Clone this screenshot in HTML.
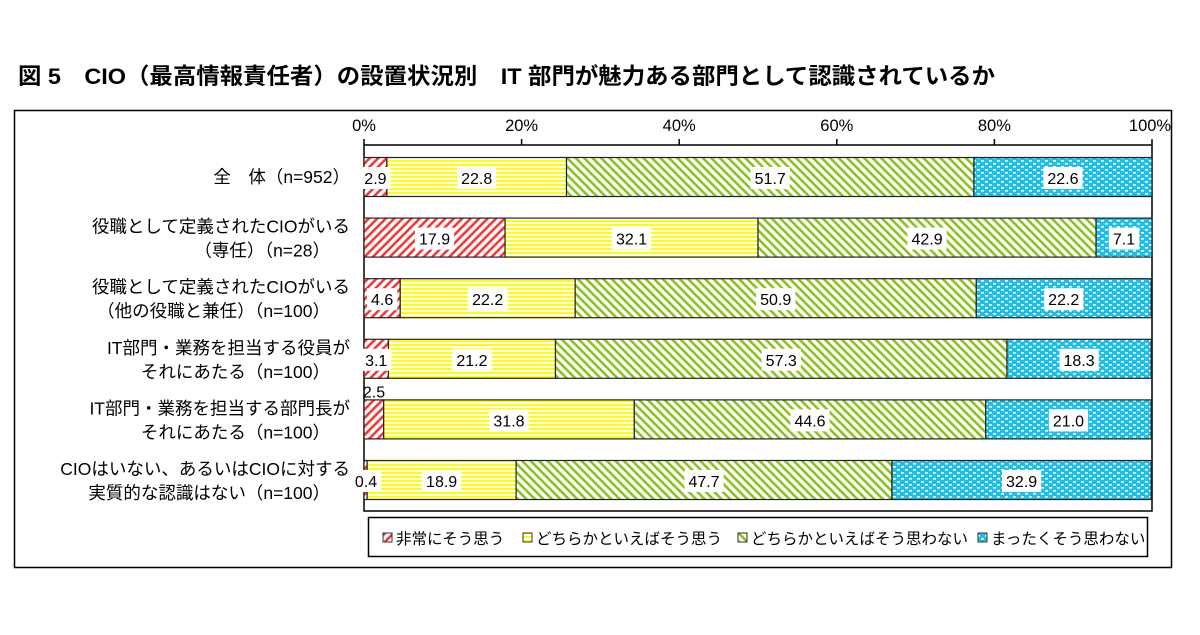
<!DOCTYPE html>
<html><head><meta charset="utf-8"><style>
body{margin:0;background:#fff;width:1200px;height:630px;overflow:hidden}
svg{font-family:"Liberation Sans","Noto Sans CJK JP",sans-serif}
</style></head><body>
<svg width="1200" height="630">
<defs>
<pattern id="pR" width="6" height="6" patternUnits="userSpaceOnUse" patternTransform="rotate(45)"><rect width="6" height="6" fill="#fff"/><rect width="2.6" height="6" fill="#f03a3a"/></pattern>
<pattern id="pY" width="4" height="4" patternUnits="userSpaceOnUse"><rect width="4" height="4" fill="#fff"/><rect width="4" height="2" fill="#ffff00"/></pattern>
<pattern id="pG" width="6" height="6" patternUnits="userSpaceOnUse" patternTransform="rotate(-45)"><rect width="6" height="6" fill="#fff"/><rect width="2.6" height="6" fill="#8cc21e"/></pattern>
<pattern id="pB" width="8" height="6" patternUnits="userSpaceOnUse"><rect width="8" height="6" fill="#1ec0ea"/><rect x="1" y="1" width="3" height="1.6" fill="#fff"/><rect x="5" y="4" width="3" height="1.6" fill="#fff"/></pattern>
</defs>
<text x="18" y="84" font-size="22.5" font-weight="bold" textLength="977" lengthAdjust="spacingAndGlyphs">図 5　CIO（最高情報責任者）の設置状況別　IT 部門が魅力ある部門として認識されているか</text>
<rect x="14.5" y="110.5" width="1157" height="457" fill="none" stroke="#000" stroke-width="1.5"/>
<rect x="364" y="145" width="788" height="366" fill="none" stroke="#000" stroke-width="1.5"/>
<g id="axis"></g>
<g id="bars"></g>
<g id="cats"></g>
<rect x="368.5" y="517.5" width="779" height="39" fill="#fff" stroke="#000" stroke-width="1.5"/>
<g id="legend"></g>
</svg>
<script>
const categories=[["全　体（n=952）"],["役職として定義されたCIOがいる","（専任）（n=28）"],["役職として定義されたCIOがいる","（他の役職と兼任）（n=100）"],["IT部門・業務を担当する役員が","それにあたる（n=100）"],["IT部門・業務を担当する部門長が","それにあたる（n=100）"],["CIOはいない、あるいはCIOに対する","実質的な認識はない（n=100）"]];
const seriesNames=["非常にそう思う","どちらかといえばそう思う","どちらかといえばそう思わない","まったくそう思わない"];
const s1=[2.9,17.9,4.6,3.1,2.5,0.4];
const s2=[22.8,32.1,22.2,21.2,31.8,18.9];
const s3=[51.7,42.9,50.9,57.3,44.6,47.7];
const s4=[22.6,7.1,22.2,18.3,21.0,32.9];
const ticks=[0,20,40,60,80,100];
const fills=["url(#pR)","url(#pY)","url(#pG)","url(#pB)"];
const NS="http://www.w3.org/2000/svg";
const X0=364,X1=1152;
const x=v=>X0+(X1-X0)*v/100;
const yc=i=>177+i*60.6;
function mk(t,a,p){const e=document.createElementNS(NS,t);for(const k in a)e.setAttribute(k,a[k]);p.appendChild(e);return e;}
const ax=document.getElementById('axis');
ticks.forEach(t=>{
 const l=mk('line',{x1:x(t),x2:x(t),y1:139,y2:145,stroke:'#000','stroke-width':1.5},ax);
 
 
 const tx=mk('text',{x:t===100?x(t)-2:x(t),y:131,'font-size':16.5,'text-anchor':'middle'},ax);
 tx.textContent=t+'%';
 
 
});
const bg=document.getElementById('bars');
const series=[s1,s2,s3,s4];
categories.forEach((c,i)=>{
 let cum=0;
 series.forEach((s,k)=>{
  const v=s[i];
  const r=mk('rect',{x:x(cum),y:yc(i)-19.5,width:x(cum+v)-x(cum),height:39,fill:fills[k],stroke:'#222','stroke-width':1.2},bg);
  
  
  cum+=v;
 });
});
categories.forEach((c,i)=>{
 let cum=0;
 series.forEach((s,k)=>{
  const v=s[i];
  let cx=(x(cum)+x(cum+v))/2, cy=yc(i)+1;
  if(k===0&&v<1){cx=x(cum)+2;}
  const above=(k===0&&i===4);
  if(above){cy=yc(i)-28;cx=x(cum)+10;}
  const label=v.toFixed(1);
  const w=label.length*8.8+4;
  if(!above){const b=mk('rect',{x:cx-w/2,y:cy-11,width:w,height:22,fill:'#fff'},bg);
  
  }
  const t=mk('text',{x:cx,y:cy+6,'font-size':16,'text-anchor':'middle'},bg);
  t.textContent=label;
  
  
  cum+=v;
 });
});
const cg=document.getElementById('cats');
categories.forEach((c,i)=>{
 c.forEach((line,j)=>{
  const y=c.length===1?yc(i)+6:yc(i)-5+j*24;
  const t=mk('text',{x:c.length===1?350:(j===0?350:330),y:y,'font-size':17.5,'text-anchor':'end'},cg);
  t.textContent=line;
  
  
 });
});
const lg=document.getElementById('legend');
const lx=[383,523,738,978];
seriesNames.forEach((n,k)=>{
 const r=mk('rect',{x:lx[k],y:533,width:9,height:9,fill:fills[k],stroke:'#333','stroke-width':1},lg);
 
 
 const t=mk('text',{x:lx[k]+13,y:544,'font-size':15.5},lg);
 t.textContent=n;
 
 
});
</script>
</body></html>
